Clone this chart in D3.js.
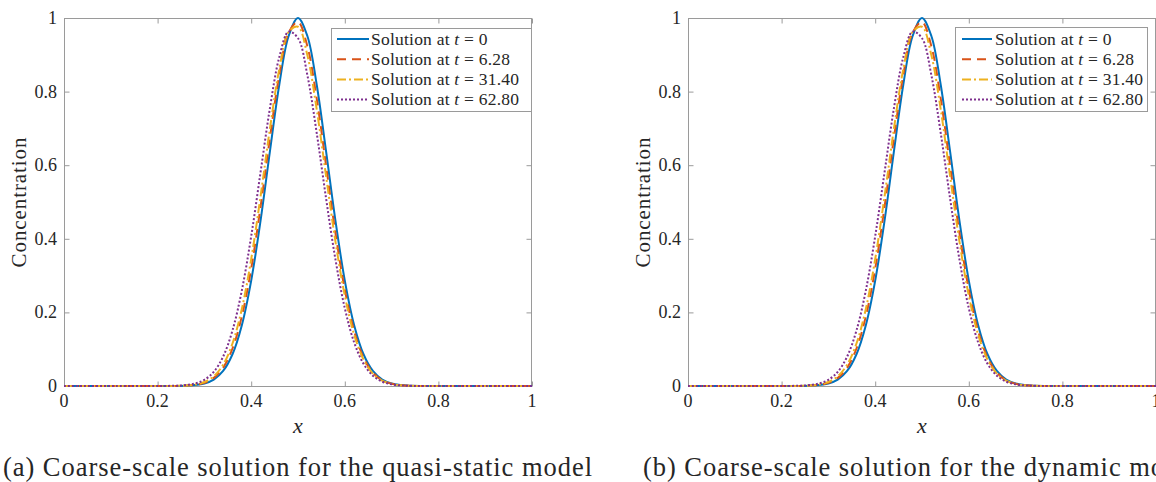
<!DOCTYPE html>
<html>
<head>
<meta charset="utf-8">
<script src="https://cdn.jsdelivr.net/npm/d3@7"></script>
<style>
  body { margin: 0; background: #fff; }
  svg { display: block; }
  text { font-family: "Liberation Serif", "Times New Roman", serif; fill: #262626; }
</style>
</head>
<body>
<svg id="fig" width="1156" height="482"></svg>
<script>
// Spatial grid shared by all profiles
const xGrid = [0, 0.1, 0.2,
  0.24, 0.26, 0.28, 0.30, 0.32, 0.34, 0.36, 0.38, 0.40, 0.42, 0.44, 0.46, 0.48,
  0.50, 0.52, 0.54, 0.56, 0.58, 0.60, 0.62, 0.64, 0.66, 0.68, 0.70, 0.72, 0.74, 0.76,
  0.8, 0.9, 1.0];

// Quasi-static model: concentration profiles
const quasiT0 = [0, 0, 0,
  0.0002, 0.0008, 0.0024, 0.0067, 0.0174, 0.0408, 0.0863, 0.1653, 0.2865, 0.4493, 0.6376, 0.8187, 0.9512,
  1.0, 0.9512, 0.8187, 0.6376, 0.4493, 0.2865, 0.1653, 0.0863, 0.0408, 0.0174, 0.0067, 0.0024, 0.0008, 0.0002,
  0, 0, 0];
const quasiT628 = [0, 0, 0,
  0.0003, 0.0011, 0.0032, 0.0088, 0.0220, 0.0497, 0.1019, 0.1894, 0.3190, 0.4870, 0.6739, 0.8450, 0.9603,
  0.989, 0.9232, 0.7810, 0.5988, 0.4160, 0.2620, 0.1496, 0.0773, 0.0363, 0.0154, 0.0059, 0.0021, 0.0007, 0.0002,
  0, 0, 0];
const quasiT3140 = [0, 0, 0,
  0.0004, 0.0014, 0.0041, 0.0108, 0.0263, 0.0578, 0.1155, 0.2095, 0.3449, 0.5153, 0.6990, 0.8607, 0.9622,
  0.9762, 0.8991, 0.7516, 0.5704, 0.3930, 0.2458, 0.1395, 0.0719, 0.0336, 0.0143, 0.0055, 0.0019, 0.0006, 0.0002,
  0, 0, 0];
const quasiT6280 = [0, 0, 0.0001,
  0.0008, 0.0025, 0.0068, 0.0169, 0.0385, 0.0799, 0.1510, 0.2597, 0.4070, 0.5809, 0.7549, 0.8935, 0.9629,
  0.9451, 0.8447, 0.6874, 0.5096, 0.3440, 0.2114, 0.1183, 0.0603, 0.0280, 0.0118, 0.0046, 0.0016, 0.0005, 0.0001,
  0, 0, 0];

// Dynamic model: concentration profiles
const dynT0 = [0, 0, 0,
  0.0002, 0.0008, 0.0024, 0.0067, 0.0174, 0.0408, 0.0863, 0.1653, 0.2865, 0.4493, 0.6376, 0.8187, 0.9512,
  1.0, 0.9512, 0.8187, 0.6376, 0.4493, 0.2865, 0.1653, 0.0863, 0.0408, 0.0174, 0.0067, 0.0024, 0.0008, 0.0002,
  0, 0, 0];
const dynT628 = [0, 0, 0,
  0.0003, 0.0011, 0.0032, 0.0088, 0.0220, 0.0497, 0.1019, 0.1894, 0.3190, 0.4870, 0.6739, 0.8450, 0.9603,
  0.989, 0.9232, 0.7810, 0.5988, 0.4160, 0.2620, 0.1496, 0.0773, 0.0363, 0.0154, 0.0059, 0.0021, 0.0007, 0.0002,
  0, 0, 0];
const dynT3140 = [0, 0, 0,
  0.0004, 0.0014, 0.0041, 0.0108, 0.0263, 0.0578, 0.1155, 0.2095, 0.3449, 0.5153, 0.6990, 0.8607, 0.9622,
  0.9762, 0.8991, 0.7516, 0.5704, 0.3930, 0.2458, 0.1395, 0.0719, 0.0336, 0.0143, 0.0055, 0.0019, 0.0006, 0.0002,
  0, 0, 0];
const dynT6280 = [0, 0, 0.0001,
  0.0008, 0.0025, 0.0068, 0.0169, 0.0385, 0.0799, 0.1510, 0.2597, 0.4070, 0.5809, 0.7549, 0.8935, 0.9629,
  0.9451, 0.8447, 0.6874, 0.5096, 0.3440, 0.2114, 0.1183, 0.0603, 0.0280, 0.0118, 0.0046, 0.0016, 0.0005, 0.0001,
  0, 0, 0];

const timeLabels = ["0", "6.28", "31.40", "62.80"];
const xTicks = [0, 0.2, 0.4, 0.6, 0.8, 1];
const xTickLabels = ["0", "0.2", "0.4", "0.6", "0.8", "1"];
const yTicks = [0, 0.2, 0.4, 0.6, 0.8, 1];
const yTickLabels = ["0", "0.2", "0.4", "0.6", "0.8", "1"];
const captions = [
  "(a) Coarse-scale solution for the quasi-static model",
  "(b) Coarse-scale solution for the dynamic model"
];

// Line styles (MATLAB default palette)
const seriesColors = ["#0072BD", "#D95319", "#EDB120", "#7E2F8E"];
const seriesDash = [null, "9,6", "9,3,2,3", "2,2"];

const axisGrey = "#9a9a9a";

// Text sizing: the typeset widths that the labels occupy
const captionWidth = 589;
const legendEntryWidth = 148;
const yLabelWidth = 130;

const panels = [
  { left: 64, top: 18, width: 468, height: 368,
    series: [quasiT0, quasiT628, quasiT3140, quasiT6280],
    legend: { x: 331, y: 28, w: 200, h: 83, l0: 337, l1: 369, tx: 371, rows: [39, 59.3, 79.6, 99.4] },
    captionX: 3, yLabelX: 26 },
  { left: 688, top: 18, width: 468, height: 368,
    series: [dynT0, dynT628, dynT3140, dynT6280],
    legend: { x: 955, y: 27, w: 192, h: 84, l0: 962, l1: 992, tx: 995, rows: [39, 59.3, 79.6, 99.4] },
    captionX: 643, yLabelX: 650 }
];

const svg = d3.select("#fig");
const defs = svg.append("defs");

// Spread a text's letters so that it spans the given width
function spreadTo(sel, target) {
  const node = sel.node();
  const natural = node.getComputedTextLength();
  const n = node.textContent.length;
  const ls = (target - natural) / Math.max(1, n - 1);
  sel.attr("letter-spacing", ls.toFixed(3));
  return ls;
}

let captionSpacing = null;
let legendSpacing = null;

panels.forEach((p, pi) => {
  const x = d3.scaleLinear().domain([0, 1]).range([p.left, p.left + p.width]);
  const y = d3.scaleLinear().domain([0, 1]).range([p.top + p.height, p.top]);
  const g = svg.append("g");

  const clipId = "plotclip" + pi;
  defs.append("clipPath").attr("id", clipId)
    .append("rect").attr("x", p.left).attr("y", p.top - 2)
    .attr("width", p.width).attr("height", p.height + 4);

  // Axis frame
  g.append("rect")
    .attr("x", p.left + 0.5).attr("y", p.top + 0.5)
    .attr("width", p.width - 1).attr("height", p.height)
    .attr("fill", "none").attr("stroke", axisGrey).attr("stroke-width", 1);

  // Inward ticks on all four sides
  const tickLen = 5;
  const bottomAxis = d3.axisBottom(x).tickValues(xTicks).tickSize(-tickLen).tickFormat("");
  const topAxis = d3.axisTop(x).tickValues(xTicks).tickSize(-tickLen).tickFormat("");
  const leftAxis = d3.axisLeft(y).tickValues(yTicks).tickSize(-tickLen).tickFormat("");
  const rightAxis = d3.axisRight(y).tickValues(yTicks).tickSize(-tickLen).tickFormat("");
  [[bottomAxis, `translate(0,${p.top + p.height + 0.5})`],
   [topAxis, `translate(0,${p.top + 0.5})`],
   [leftAxis, `translate(${p.left + 0.5},0)`],
   [rightAxis, `translate(${p.left + p.width - 0.5},0)`]].forEach(([ax, tr]) => {
    const a = g.append("g").attr("transform", tr).call(ax);
    a.select(".domain").remove();
    a.selectAll(".tick line").attr("stroke", axisGrey);
  });

  // Tick labels
  g.selectAll(".xtl").data(xTicks).enter().append("text")
    .attr("x", d => x(d)).attr("y", 407)
    .attr("text-anchor", "middle").attr("font-size", 18)
    .text((d, i) => xTickLabels[i]);
  g.selectAll(".ytl").data(yTicks).enter().append("text")
    .attr("x", p.left - 7).attr("y", d => y(d) + 6)
    .attr("text-anchor", "end").attr("font-size", 18)
    .text((d, i) => yTickLabels[i]);

  // Axis labels
  g.append("text")
    .attr("x", x(0.5)).attr("y", 433)
    .attr("text-anchor", "middle").attr("font-size", 22).attr("font-style", "italic")
    .text("x");
  const yl = g.append("text")
    .attr("transform", `translate(${p.yLabelX},${y(0.5)}) rotate(-90)`)
    .attr("text-anchor", "middle").attr("font-size", 21)
    .text("Concentration");
  spreadTo(yl, yLabelWidth);

  // Profiles
  const line = d3.line()
    .x((d, i) => x(xGrid[i]))
    .y(d => y(d))
    .curve(d3.curveCatmullRom.alpha(0.5));
  const curves = g.append("g").attr("clip-path", `url(#${clipId})`);
  p.series.forEach((vals, si) => {
    curves.append("path")
      .attr("d", line(vals))
      .attr("fill", "none")
      .attr("stroke", seriesColors[si])
      .attr("stroke-width", 2)
      .attr("stroke-dasharray", seriesDash[si]);
  });

  // Legend
  const L = p.legend;
  const lg = g.append("g");
  lg.append("rect")
    .attr("x", L.x + 0.5).attr("y", L.y + 0.5).attr("width", L.w).attr("height", L.h)
    .attr("fill", "#fff").attr("stroke", axisGrey).attr("stroke-width", 1);
  const entries = timeLabels.map((t, si) => {
    const ry = L.rows[si];
    lg.append("line")
      .attr("x1", L.l0).attr("x2", L.l1).attr("y1", ry).attr("y2", ry)
      .attr("stroke", seriesColors[si]).attr("stroke-width", 2)
      .attr("stroke-dasharray", seriesDash[si]);
    const tx = lg.append("text").attr("x", L.tx).attr("y", ry + 5.5).attr("font-size", 17.5);
    tx.append("tspan").text("Solution at ");
    tx.append("tspan").attr("font-style", "italic").text("t");
    tx.append("tspan").text(" = " + t);
    return tx;
  });
  if (legendSpacing === null) legendSpacing = spreadTo(entries[entries.length - 1], legendEntryWidth);
  entries.forEach(e => e.attr("letter-spacing", legendSpacing.toFixed(3)));

  // Caption
  const cap = svg.append("text")
    .attr("x", p.captionX).attr("y", 476)
    .attr("font-size", 26.5)
    .text(captions[pi]);
  if (captionSpacing === null) captionSpacing = spreadTo(cap, captionWidth);
  cap.attr("letter-spacing", captionSpacing.toFixed(3));
});
</script>
</body>
</html>
